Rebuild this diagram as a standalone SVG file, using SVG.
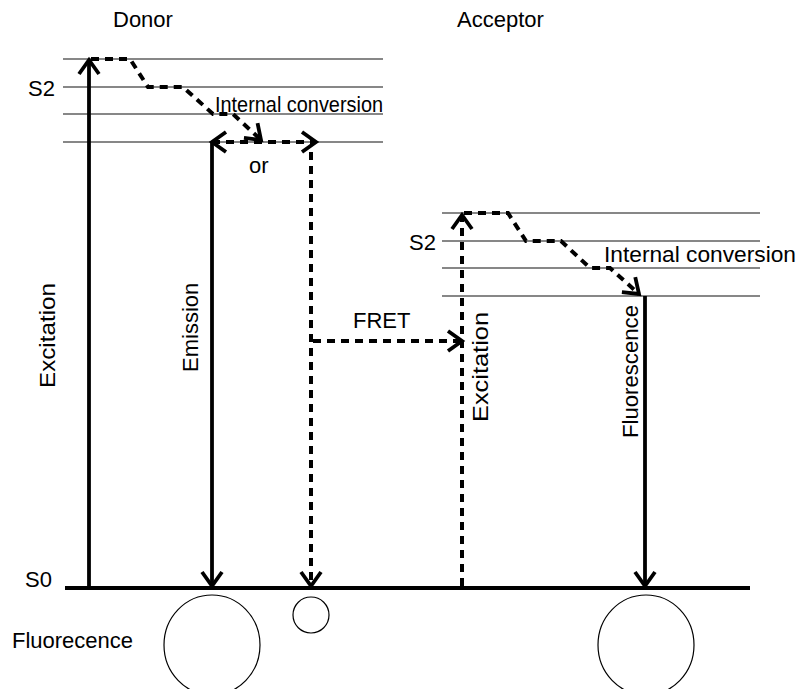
<svg xmlns="http://www.w3.org/2000/svg" width="801" height="689" viewBox="0 0 801 689">
<style>
text{font-family:"Liberation Sans",Arial,sans-serif;font-size:22px;fill:#000}
.lvl{stroke:#111;stroke-width:1.1;fill:none}
.solid{stroke:#000;stroke-width:3.8;fill:none}
.dash{stroke:#000;stroke-width:4;fill:none;stroke-dasharray:8 6}
.circ{fill:none;stroke:#000;stroke-width:1.2}
</style>
<defs>
<marker id="ah" markerUnits="userSpaceOnUse" markerWidth="40" markerHeight="40" viewBox="-20 -20 40 40" refX="0" refY="0" orient="auto-start-reverse" overflow="visible">
<path d="M-14,-10 L0,0 L-14,10" fill="none" stroke="#000" stroke-width="3.8" stroke-dasharray="none"/>
</marker>
</defs>
<g id="labels">
<text x="113" y="27">Donor</text>
<text x="457" y="27">Acceptor</text>
<text x="55" y="96" text-anchor="end">S2</text>
<text x="436" y="250" text-anchor="end">S2</text>
<text x="52" y="587" text-anchor="end">S0</text>
<text x="12" y="648">Fluorecence</text>
</g>
<g id="donor-levels">
<line class="lvl" x1="63" y1="59" x2="383" y2="59"/>
<line class="lvl" x1="63" y1="87" x2="383" y2="87"/>
<line class="lvl" x1="63" y1="114" x2="383" y2="114"/>
<line class="lvl" x1="63" y1="142" x2="383" y2="142"/>
</g>
<g id="acceptor-levels">
<line class="lvl" x1="442" y1="213" x2="760" y2="213"/>
<line class="lvl" x1="442" y1="241" x2="760" y2="241"/>
<line class="lvl" x1="442" y1="268" x2="760" y2="268"/>
<line class="lvl" x1="442" y1="296" x2="760" y2="296"/>
</g>
<g id="s0">
<line x1="65" y1="588" x2="750" y2="588" stroke="#000" stroke-width="4"/>
</g>
<g id="connectors">
<line class="solid" x1="89" y1="588" x2="89" y2="60" marker-end="url(#ah)"/>
<polyline class="dash" points="91,59 130,59 148,87 183,87 213,114 233,114 261,140" marker-end="url(#ah)"/>
<line class="dash" x1="212" y1="142" x2="316" y2="142" marker-start="url(#ah)" marker-end="url(#ah)"/>
<line class="solid" x1="212" y1="142" x2="212" y2="586" marker-end="url(#ah)"/>
<line class="dash" x1="311" y1="152" x2="311" y2="586" marker-end="url(#ah)"/>
<line class="dash" x1="313" y1="341" x2="462" y2="341" marker-end="url(#ah)"/>
<line class="dash" x1="462" y1="586" x2="462" y2="215" marker-end="url(#ah)"/>
<polyline class="dash" points="464,213 508,213 526,241 561,241 590,268 610,268 639,294" marker-end="url(#ah)"/>
<line class="solid" x1="645" y1="296" x2="645" y2="586" marker-end="url(#ah)"/>
</g>
<g id="texts">
<text x="215" y="112" textLength="168" lengthAdjust="spacingAndGlyphs">Internal conversion</text>
<text x="604" y="262" textLength="192" lengthAdjust="spacingAndGlyphs">Internal conversion</text>
<text x="249" y="173">or</text>
<text x="353" y="328">FRET</text>
<text transform="translate(55,388) rotate(-90)" textLength="105" lengthAdjust="spacingAndGlyphs">Excitation</text>
<text transform="translate(198,372) rotate(-90)">Emission</text>
<text transform="translate(488,422) rotate(-90)" textLength="110" lengthAdjust="spacingAndGlyphs">Excitation</text>
<text transform="translate(638,438) rotate(-90)" textLength="133" lengthAdjust="spacingAndGlyphs">Fluorescence</text>
</g>
<g id="circles">
<ellipse class="circ" cx="212" cy="645" rx="48" ry="50"/>
<ellipse class="circ" cx="311" cy="615" rx="18" ry="18"/>
<ellipse class="circ" cx="646" cy="645" rx="48" ry="50"/>
</g>
</svg>
